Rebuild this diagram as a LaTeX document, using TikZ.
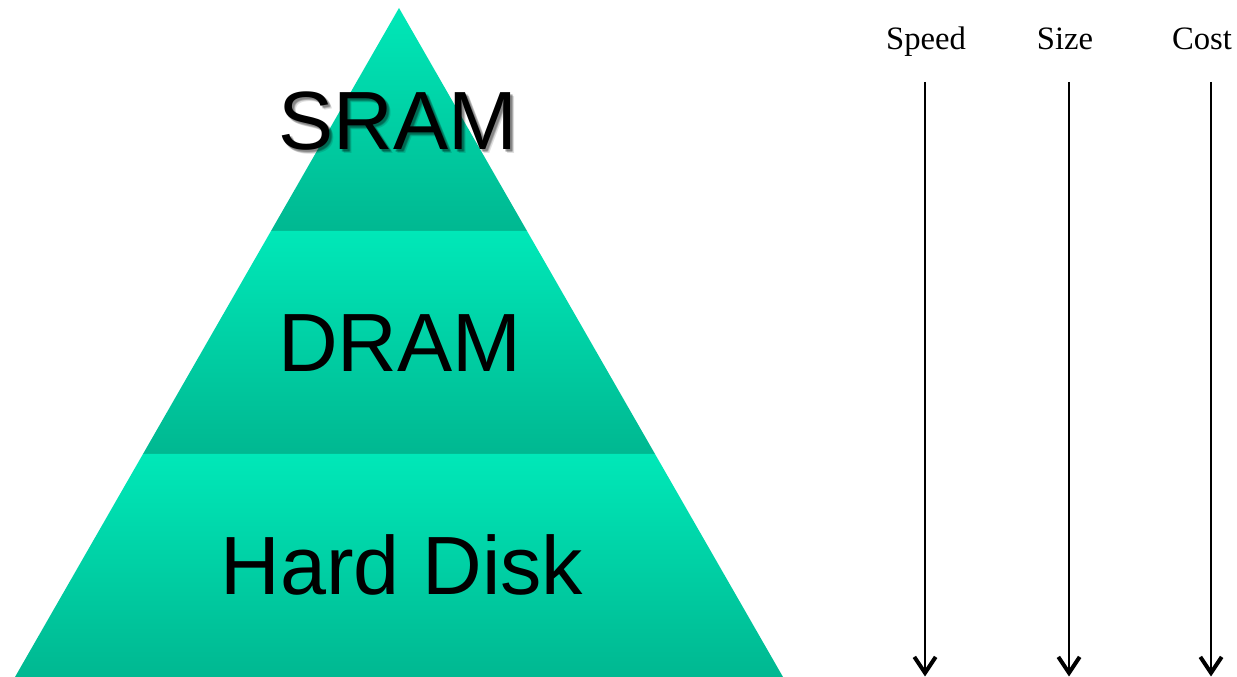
\documentclass[tikz,border=0pt]{standalone}
\usepackage{fontspec}
\setmainfont{Liberation Serif}
\newfontfamily\armfont{Liberation Sans}
\usetikzlibrary{arrows.meta}

\definecolor{bandtop}{RGB}{0,232,184}
\definecolor{bandbot}{RGB}{0,184,145}

\tikzset{
  band/.style={top color=bandtop, bottom color=bandbot, draw=none},
  tiername/.style={anchor=base, inner sep=0pt, font=\armfont\fontsize{62}{70}\selectfont},
  axislabel/.style={anchor=base, inner sep=0pt, font=\fontsize{24.5}{28}\selectfont},
  trend/.style={line width=1.5pt, -{Straight Barb[length=12pt, width=16pt, line width=3pt]}}
}

\begin{document}
\begin{tikzpicture}[x=0.75pt, y=0.75pt]
  \useasboundingbox (0,0) rectangle (1237,677);

  % pyramid corners and band boundaries
  \coordinate (apex) at (399,669);
  \coordinate (l1) at (271,446);  \coordinate (r1) at (527,446);
  \coordinate (l2) at (143,223);  \coordinate (r2) at (655,223);
  \coordinate (l3) at (15,0);     \coordinate (r3) at (783,0);

  % three shaded tiers
  \shade[band] (apex) -- (r1) -- (l1) -- cycle;
  \shade[band] (l1) -- (r1) -- (r2) -- (l2) -- cycle;
  \shade[band] (l2) -- (r2) -- (r3) -- (l3) -- cycle;

  % soft shadow under the top label
  \foreach \dx/\dy in {2/-2, 3/-3, 4/-4, 3/-2, 2/-3}
    \node[tiername, text=black, opacity=0.12] at (398+\dx,527+\dy) {SRAM};

  % tier labels
  \node[tiername] (sram) at (398,527) {SRAM};
  \node[tiername] (dram) at (400,305) {DRAM};
  \node[tiername] (disk) at (402,82)  {Hard Disk};

  % axis headings
  \node[axislabel] (speed) at (926,627)  {Speed};
  \node[axislabel] (size)  at (1065,627) {Size};
  \node[axislabel] (cost)  at (1202,627) {Cost};

  % arrow end points
  \coordinate (speedtop) at (925,595);  \coordinate (speedend) at (925,0.5);
  \coordinate (sizetop)  at (1069,595); \coordinate (sizeend)  at (1069,0.5);
  \coordinate (costtop)  at (1211,595); \coordinate (costend)  at (1211,0.5);

  \draw[trend] (speedtop) -- (speedend);
  \draw[trend] (sizetop) -- (sizeend);
  \draw[trend] (costtop) -- (costend);
\end{tikzpicture}
\end{document}
